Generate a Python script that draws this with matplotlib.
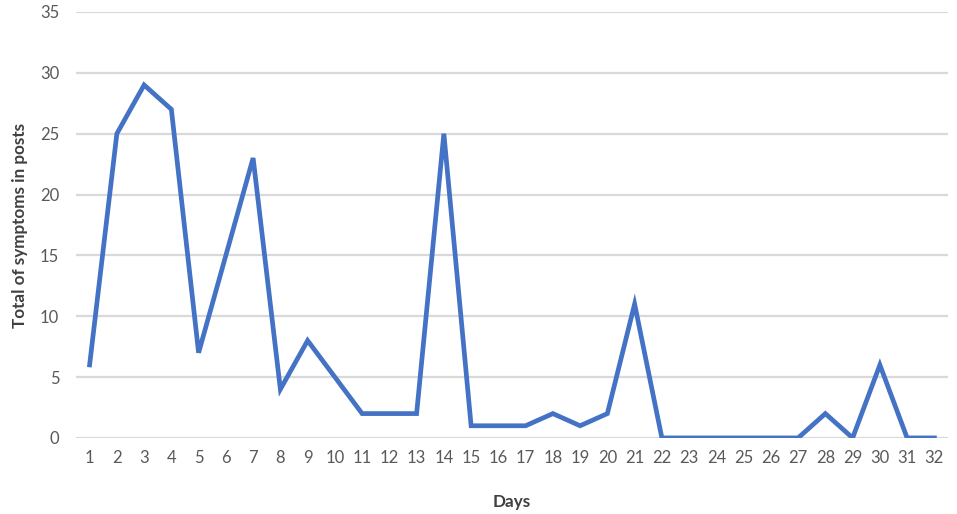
import matplotlib.pyplot as plt

# symptoms per day
days = list(range(1, 33))
symptoms = [6, 25, 29, 27, 7, 15, 23, 4, 8, 5, 2, 2, 2, 25, 1, 1,
            1, 2, 1, 2, 11, 0, 0, 0, 0, 0, 0, 2, 0, 6, 0, 0]
y_ticks = [0, 5, 10, 15, 20, 25, 30, 35]

plt.rcParams['font.family'] = ['Lato', 'DejaVu Sans']

fig = plt.figure(figsize=(9.57, 5.14), dpi=100)
ax = fig.add_axes([0.0794, 0.148, 0.9112, 0.8287])

ax.plot(days, symptoms, color="#4472C4", linewidth=3.4, solid_joinstyle="miter", zorder=3)

ax.set_xlim(0.5, 32.5)
ax.set_ylim(0, 35)
ax.set_xticks(days)
ax.set_yticks(y_ticks)
ax.grid(axis="y", color="#d9d9d9", linewidth=1.6)
ax.set_axisbelow(True)
for s in ax.spines.values():
    s.set_visible(False)
ax.tick_params(length=0, labelsize=12, colors="#595959", pad=9)
ax.tick_params(axis="y", pad=12)

ax.set_xlabel("Days", fontsize=12.3, fontweight="bold", color="#404040", labelpad=20)
ax.set_ylabel("Total of symptoms in posts", fontsize=12.3, fontweight="bold",
              color="#404040", labelpad=9)

fig.savefig("out.png", dpi=100)
